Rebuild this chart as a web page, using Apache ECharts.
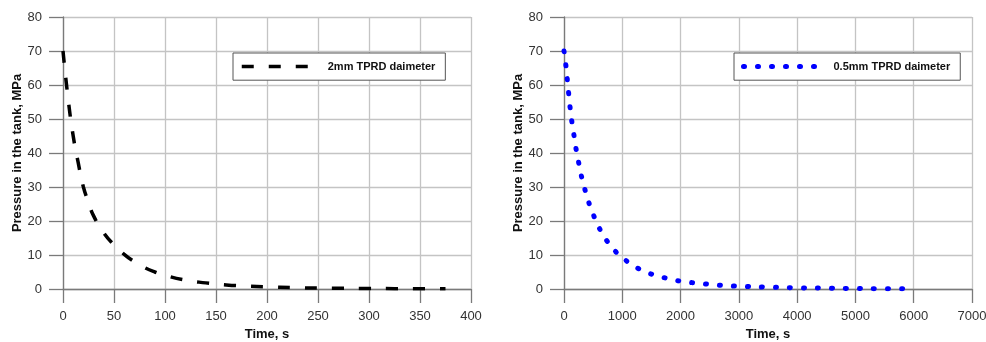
<!DOCTYPE html>
<html>
<head>
<meta charset="utf-8">
<script src="https://cdn.jsdelivr.net/npm/echarts@6/dist/echarts.min.js"></script>
<style>
html,body{margin:0;padding:0;background:#fff;}
#c{width:986px;height:342px;}
</style>
</head>
<body>
<div id="c"></div>
<script>
// ---- data ----
const timeA = [0,5,10,15,20,25,30,40,50,60,70,80,90,100,120,140,160,180,200,225,250,275,300,325,350,375];
const pressA = [70,56,45,37,30,25.5,21.5,16.5,13,10.2,8,6.3,5,4.0,2.6,1.8,1.2,0.85,0.6,0.4,0.28,0.2,0.14,0.1,0.07,0.05];
const timeB = [0,35,57,80,103,131,166,200,246,291,349,411,491,583,697,834,1006,1189,1394,1623,1851,2080,2309,2537,2766,3000,3500,4000,4500,5000,5500,6000];
const pressB = [70,65.4,61.5,57.5,53.6,49.7,45.8,41.9,37.7,33.8,29.9,26.2,22.4,18.7,15.2,12,9.2,6.9,5.1,3.8,2.8,2.1,1.7,1.3,1.0,0.8,0.55,0.35,0.24,0.15,0.09,0.05];
const yTicks = {min:0, max:80, interval:10};
const xTicksA = {min:0, max:400, interval:50};
const xTicksB = {min:0, max:7000, interval:1000};
const nameA = '2mm TPRD daimeter';
const nameB = '0.5mm TPRD daimeter';
const xTitle = 'Time, s';
const yTitle = 'Pressure in the tank, MPa';

const FONT = 'Liberation Sans, Arial, sans-serif';
const gridCol = '#c4c4c4';
const axisCol = '#7a7a7a';
const labelCol = '#333';

function xAxis(idx, t){
  return {
    type:'value', gridIndex:idx, min:t.min, max:t.max, interval:t.interval,
    name:xTitle, nameLocation:'middle', nameGap:38,
    nameTextStyle:{fontFamily:FONT,fontWeight:'bold',fontSize:13,color:'#111'},
    axisLine:{show:true,onZero:false,lineStyle:{color:axisCol,width:1.3}},
    axisTick:{show:true,inside:false,length:14,lineStyle:{color:axisCol,width:1.3}},
    axisLabel:{fontFamily:FONT,fontSize:13,color:labelCol,margin:21,formatter:v=>String(v)},
    splitLine:{show:true,lineStyle:{color:gridCol,width:1.3}}
  };
}
function yAxis(idx){
  return {
    type:'value', gridIndex:idx, min:yTicks.min, max:yTicks.max, interval:yTicks.interval,
    name:yTitle, nameLocation:'middle', nameGap:38, nameRotate:90,
    nameTextStyle:{fontFamily:FONT,fontWeight:'bold',fontSize:13,color:'#111'},
    axisLine:{show:true,lineStyle:{color:axisCol,width:1.3}},
    axisTick:{show:true,inside:false,length:14,lineStyle:{color:axisCol,width:1.3}},
    axisLabel:{fontFamily:FONT,fontSize:13,color:labelCol,margin:21,formatter:v=>String(v)},
    splitLine:{show:true,lineStyle:{color:gridCol,width:1.3}}
  };
}
function legend(name,left,w,ls){
  return {
    data:[name], left:left, top:53, orient:'horizontal',
    itemWidth:w, itemHeight:14,
    padding:[7,10,7,7],
    borderColor:'#555', borderWidth:1, backgroundColor:'#fff', borderRadius:0,
    itemStyle:{opacity:0},
    lineStyle:ls,
    textStyle:{fontFamily:FONT,fontWeight:'bold',fontSize:11,color:'#111',padding:[0,0,0,13]},
    selectedMode:false
  };
}

const lsA = {color:'#000',width:3.5,type:[12,15],cap:'butt'};
const lsB = {color:'#0000ff',width:5,type:[1,13],cap:'round'};

const chart = echarts.init(document.getElementById('c'), null, {renderer:'canvas'});
chart.setOption({
  animation:false,
  backgroundColor:'#fff',
  grid:[
    {left:63, right:515, top:17, bottom:53, containLabel:false, outerBoundsMode:'none'},
    {left:564, right:14, top:17, bottom:53, containLabel:false, outerBoundsMode:'none'}
  ],
  xAxis:[xAxis(0,xTicksA), xAxis(1,xTicksB)],
  yAxis:[yAxis(0), yAxis(1)],
  legend:[legend(nameA,233,68,lsA), legend(nameB,734,72,lsB)],
  series:[
    {name:nameA, type:'line', xAxisIndex:0, yAxisIndex:0, smooth:true, showSymbol:false,
     data:timeA.map((t,i)=>[t,pressA[i]]),
     lineStyle:lsA, itemStyle:{color:'#000'}},
    {name:nameB, type:'line', xAxisIndex:1, yAxisIndex:1, smooth:true, showSymbol:false,
     data:timeB.map((t,i)=>[t,pressB[i]]),
     lineStyle:lsB, itemStyle:{color:'#0000ff'}}
  ]
});
</script>
</body>
</html>
